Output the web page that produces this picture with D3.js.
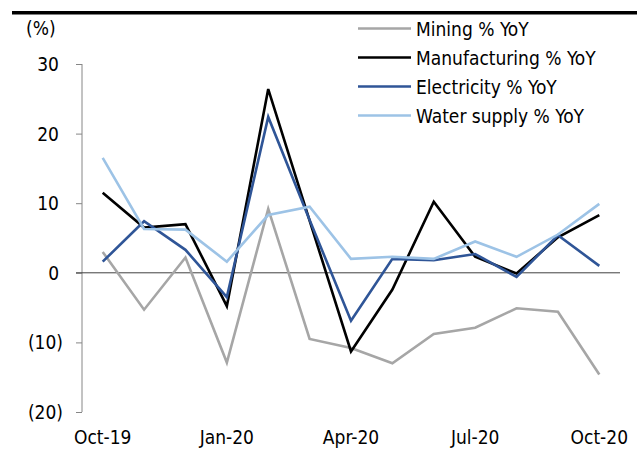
<!DOCTYPE html>
<html>
<head>
<meta charset="utf-8">
<script src="https://cdn.jsdelivr.net/npm/d3@7"></script>
<style>
  html, body { margin: 0; padding: 0; background: #fff; }
  svg text { font-family: "DejaVu Sans Condensed", "DejaVu Sans", sans-serif; font-stretch: condensed; fill: #000; }
</style>
</head>
<body>
<svg id="chart" width="637" height="450"></svg>
<script>
// Monthly year-on-year growth by industry (%)
const months = ["Oct-19","Nov-19","Dec-19","Jan-20","Feb-20","Mar-20","Apr-20",
                "May-20","Jun-20","Jul-20","Aug-20","Sep-20","Oct-20"];
const tickMonths = ["Oct-19","Jan-20","Apr-20","Jul-20","Oct-20"];
const yTicks = [30, 20, 10, 0, -10, -20];

const seriesNames = ["Mining % YoY","Manufacturing % YoY","Electricity % YoY","Water supply % YoY"];
const mining        = [3.0, -5.3, 2.2, -12.9, 9.2, -9.5, -10.8, -13.0, -8.8, -7.9, -5.1, -5.6, -14.6];
const manufacturing = [11.5, 6.5, 7.0, -4.8, 26.4, 7.5, -11.3, -2.4, 10.2, 2.3, -0.1, 5.1, 8.3];
const electricity   = [1.6, 7.4, 3.3, -3.5, 22.4, 7.6, -6.9, 2.0, 1.8, 2.7, -0.6, 5.4, 1.0];
const waterSupply   = [16.5, 6.3, 6.2, 1.6, 8.3, 9.5, 2.0, 2.3, 2.0, 4.5, 2.3, 5.5, 9.9];
const seriesColors  = ["#a6a6a6", "#000000", "#2f5597", "#9dc3e6"];

const series = [mining, manufacturing, electricity, waterSupply].map((v, i) => ({
  name: seriesNames[i], values: v, color: seriesColors[i]
}));

const svg = d3.select("#chart");
const plot = { left: 82, right: 620, top: 64, bottom: 412 };
const fontSize = "19px";

const x = d3.scalePoint().domain(months).range([plot.left, plot.right]).padding(0.5);
const y = d3.scaleLinear().domain([-20, 30]).range([plot.bottom, plot.top]);

// Heavy rule across the top
svg.append("line")
  .attr("x1", 12).attr("x2", 637).attr("y1", 12.8).attr("y2", 12.8)
  .attr("stroke", "#000").attr("stroke-width", 3.6);

// Unit label
svg.append("text").attr("x", 26).attr("y", 35).style("font-size", fontSize).text("(%)");

// Y axis
const yAxis = d3.axisLeft(y).tickValues(yTicks).tickSize(6).tickFormat(() => "");
const gy = svg.append("g").attr("transform", `translate(${plot.left},0)`).call(yAxis);
gy.select(".domain").attr("stroke", "#868686").attr("d", `M0.5,${plot.top}V${plot.bottom}`)
  .attr("transform", "translate(-0.5,0)");
gy.selectAll(".tick line").attr("stroke", "#868686");

svg.append("g").selectAll("text").data(yTicks).join("text")
  .attr("x", d => d < 0 ? 63 : 59)
  .attr("y", d => y(d) + 7)
  .attr("text-anchor", "end")
  .style("font-size", fontSize)
  .text(d => d < 0 ? `(${Math.abs(d)})` : d);

// Zero line
svg.append("line")
  .attr("x1", plot.left - 6).attr("x2", plot.right)
  .attr("y1", y(0)).attr("y2", y(0))
  .attr("stroke", "#404040").attr("stroke-width", 1);

// X labels
svg.append("g").selectAll("text").data(tickMonths).join("text")
  .attr("x", d => x(d))
  .attr("y", 444)
  .attr("text-anchor", "middle")
  .style("font-size", fontSize)
  .text(d => d);

// Series lines
const line = d3.line().x((d, i) => x(months[i])).y(d => y(d));
svg.append("g").selectAll("path").data(series).join("path")
  .attr("d", d => line(d.values))
  .attr("fill", "none")
  .attr("stroke", d => d.color)
  .attr("stroke-width", 2.6)
  .attr("stroke-linejoin", "miter");

// Legend
const legend = svg.append("g").selectAll("g").data(series).join("g")
  .attr("transform", (d, i) => `translate(358,${28.5 + i * 29})`);
legend.append("line")
  .attr("x1", 0).attr("x2", 53).attr("y1", 0).attr("y2", 0)
  .attr("stroke", d => d.color).attr("stroke-width", 2.6);
legend.append("text")
  .attr("x", 58).attr("y", 7)
  .style("font-size", fontSize)
  .text(d => d.name);
</script>
</body>
</html>
